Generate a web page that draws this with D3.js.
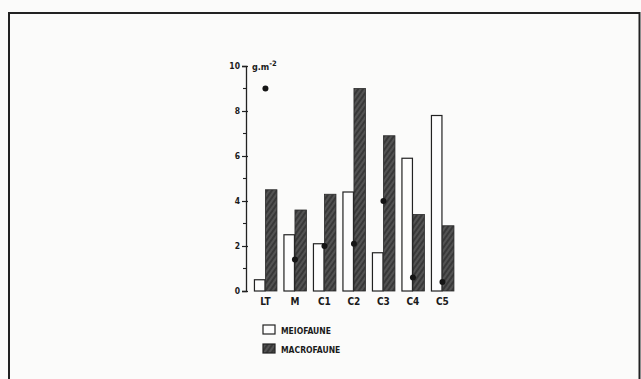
<!DOCTYPE html>
<html>
<head>
<meta charset="utf-8">
<script src="https://cdn.jsdelivr.net/npm/d3@7"></script>
<style>
  html, body { margin: 0; padding: 0; background: #fbfbfa; }
  svg { display: block; }
  text { font-family: "DejaVu Sans Condensed", "Liberation Sans Narrow", sans-serif; font-weight: bold; fill: #1a1a1a; }
</style>
</head>
<body>
<svg id="chart" width="641" height="379"></svg>
<script>
// Stations along the transect
const stations = ["LT", "M", "C1", "C2", "C3", "C4", "C5"];
// Biomass (g.m-2)
const meiofaune = [0.5, 2.5, 2.1, 4.4, 1.7, 5.9, 7.8];
const macrofaune = [4.5, 3.6, 4.3, 9.0, 6.9, 3.4, 2.9];
// Point values plotted at the centre of each station
const points = [9.0, 1.4, 2.0, 2.1, 4.0, 0.6, 0.4];
const yTicks = [0, 2, 4, 6, 8, 10];
const yMinorTicks = [1, 3, 5, 7, 9];
const seriesNames = ["MEIOFAUNE", "MACROFAUNE"];

const svg = d3.select("#chart");
const W = 641, H = 379;

// hatched fill for macrofauna
const defs = svg.append("defs");
const pat = defs.append("pattern")
  .attr("id", "hatch")
  .attr("patternUnits", "userSpaceOnUse")
  .attr("width", 4).attr("height", 4)
  .attr("patternTransform", "rotate(-55)");
pat.append("rect").attr("width", 4).attr("height", 4).attr("fill", "#383838");
pat.append("line").attr("x1", 0).attr("y1", 2).attr("x2", 4).attr("y2", 2)
  .attr("stroke", "#858585").attr("stroke-width", 0.7);

// page frame
svg.append("path")
  .attr("d", `M9,${H} V13 H639.5 V${H}`)
  .attr("fill", "none").attr("stroke", "#222").attr("stroke-width", 2);

const x = d3.scaleBand().domain(stations).range([250.7, 457.2])
  .paddingInner(0.22).paddingOuter(0.11);
const xs = d3.scaleBand().domain(seriesNames).range([0, x.bandwidth()]);
const y = d3.scaleLinear().domain([0, 10]).range([291, 66]);

// y axis
const axisG = svg.append("g").attr("transform", "translate(246,0)");
axisG.call(d3.axisLeft(y).tickValues(yTicks).tickSize(4).tickFormat(d3.format("d")))
  .call(g => g.select(".domain").attr("stroke", "#222").attr("stroke-width", 1.3))
  .call(g => g.selectAll(".tick line").attr("stroke", "#222").attr("stroke-width", 1.2).attr("x2", 2).attr("x1", -4))
  .call(g => g.selectAll(".tick text").attr("x", -6).attr("font-size", 8.5)
    .attr("font-family", "'DejaVu Sans Condensed', sans-serif").attr("font-weight", "bold").attr("fill", "#1a1a1a"));
axisG.selectAll(".minor").data(yMinorTicks).join("line")
  .attr("x1", -3).attr("x2", 0)
  .attr("y1", d => y(d)).attr("y2", d => y(d))
  .attr("stroke", "#222").attr("stroke-width", 1.1);

// unit label
const unit = svg.append("text").attr("x", 252).attr("y", 70).attr("font-size", 9);
unit.append("tspan").text("g.m");
unit.append("tspan").attr("dy", -4).attr("font-size", 7.5).text("-2");

// bars
const groups = svg.append("g").selectAll("g").data(stations).join("g")
  .attr("transform", d => `translate(${x(d)},0)`);

groups.append("rect")
  .attr("x", xs("MEIOFAUNE") + 0.5)
  .attr("y", (d, i) => y(meiofaune[i]))
  .attr("width", xs.bandwidth() - 1)
  .attr("height", (d, i) => y(0) - y(meiofaune[i]))
  .attr("fill", "#fdfdfd").attr("stroke", "#222").attr("stroke-width", 1.2);

groups.append("rect")
  .attr("x", xs("MACROFAUNE"))
  .attr("y", (d, i) => y(macrofaune[i]))
  .attr("width", xs.bandwidth())
  .attr("height", (d, i) => y(0) - y(macrofaune[i]))
  .attr("fill", "url(#hatch)").attr("stroke", "#2a2a2a").attr("stroke-width", 0.8);

// point markers
svg.append("g").selectAll("circle").data(points).join("circle")
  .attr("cx", (d, i) => x(stations[i]) + x.bandwidth() / 2)
  .attr("cy", d => y(d))
  .attr("r", 3)
  .attr("fill", "#151515");

// station labels
svg.append("g").selectAll("text").data(stations).join("text")
  .attr("x", d => x(d) + x.bandwidth() / 2)
  .attr("y", 305)
  .attr("text-anchor", "middle")
  .attr("font-size", 10)
  .text(d => d);

// legend
const legend = svg.append("g").attr("transform", "translate(263,325)");
const li = legend.selectAll("g").data(seriesNames).join("g")
  .attr("transform", (d, i) => `translate(0,${i * 19})`);
li.append("rect")
  .attr("width", 12).attr("height", 9)
  .attr("fill", (d, i) => i === 0 ? "#fdfdfd" : "url(#hatch)")
  .attr("stroke", "#222").attr("stroke-width", 1.2);
li.append("text")
  .attr("x", 18).attr("y", 8.5)
  .attr("font-size", 8.5)
  .text(d => d);
</script>
</body>
</html>
